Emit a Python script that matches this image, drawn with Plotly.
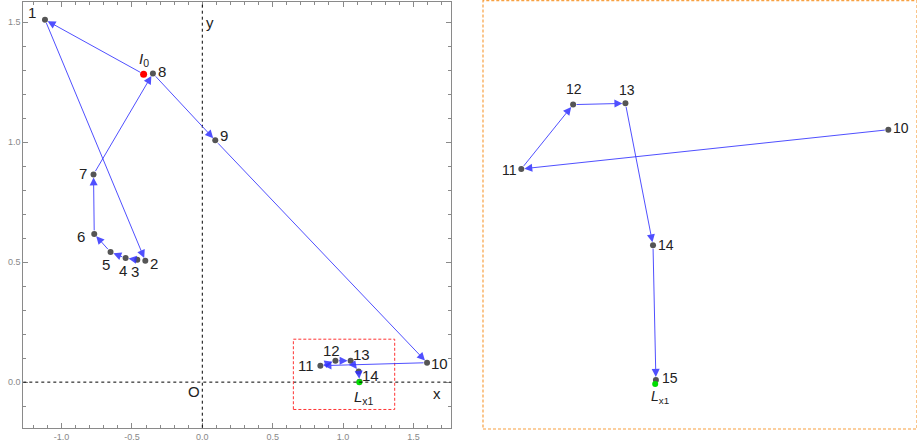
import plotly.graph_objects as go

# ---- data ----
labels = ["1", "2", "3", "4", "5", "6", "7", "8", "9", "10", "11", "12", "13", "14", "15"]
pts_x = [-1.118, -0.405, -0.462, -0.545, -0.652, -0.768, -0.773, -0.351, 0.092,
         1.597, 0.839, 0.946, 1.054, 1.111, 1.117]
pts_y = [1.511, 0.506, 0.510, 0.517, 0.542, 0.618, 0.866, 1.287, 1.008,
         0.081, 0.0685, 0.089, 0.0894, 0.0442, 0.0013]
i0_x, i0_y = -0.417, 1.284
lx1_x, lx1_y = 1.1155, 0.0
x_tick_vals = [-1.0, -0.5, 0.0, 0.5, 1.0, 1.5]
x_tick_text = ["-1.0", "-0.5", "0.0", "0.5", "1.0", "1.5"]
y_tick_vals = [0.0, 0.5, 1.0, 1.5]
y_tick_text = ["0.0", "0.5", "1.0", "1.5"]
zoom_box_x = [0.647, 1.367]
zoom_box_y = [-0.114, 0.179]
zoom_first = 9  # index of point 10

# label offsets (px) for each panel
left_off = [(-13, 7), (9, -3), (-2, -12), (-3, -12), (-5, -12), (-13, -3), (-11, 1),
            (9, 2), (9, 5), (12, -1), (-14, 0), (-4, 10), (11, 6), (12, -4), None]
right_off = [(13, 2), (-12, -1), (1, 16), (2, 13), (13, 0), (14, 2)]

FONT = "Liberation Sans, Arial, sans-serif"
LINE = "rgba(50,50,255,0.85)"
GRAY = "#555555"
FRAME = "#8a8a8a"

fig = go.Figure()

# left panel markers
fig.add_trace(go.Scatter(x=pts_x, y=pts_y, mode="markers",
                         marker=dict(size=6, color=GRAY), xaxis="x", yaxis="y",
                         showlegend=False, hoverinfo="skip"))
# right panel markers
fig.add_trace(go.Scatter(x=pts_x[zoom_first:], y=pts_y[zoom_first:], mode="markers",
                         marker=dict(size=6, color=GRAY), xaxis="x2", yaxis="y2",
                         showlegend=False, hoverinfo="skip"))

ann = []

def arrow(x0, y0, x1, y1, xr, yr):
    ann.append(dict(x=x1, y=y1, ax=x0, ay=y0, xref=xr, yref=yr, axref=xr, ayref=yr,
                    showarrow=True, arrowhead=2, arrowsize=1.6, arrowwidth=1,
                    arrowcolor=LINE, standoff=3, startstandoff=2, text=""))

# left arrows: I0 -> 1 -> 2 ... -> 15
arrow(i0_x, i0_y, pts_x[0], pts_y[0], "x", "y")
for i in range(len(pts_x) - 1):
    arrow(pts_x[i], pts_y[i], pts_x[i + 1], pts_y[i + 1], "x", "y")
# right arrows: 10 -> ... -> 15
for i in range(zoom_first, len(pts_x) - 1):
    arrow(pts_x[i], pts_y[i], pts_x[i + 1], pts_y[i + 1], "x2", "y2")

# special points
fig.add_trace(go.Scatter(x=[i0_x], y=[i0_y], mode="markers", marker=dict(size=7, color="#ff0000"),
                         xaxis="x", yaxis="y", showlegend=False, hoverinfo="skip"))
fig.add_trace(go.Scatter(x=[lx1_x], y=[lx1_y], mode="markers", marker=dict(size=6, color="#00dd00"),
                         xaxis="x", yaxis="y", showlegend=False, hoverinfo="skip"))
fig.add_trace(go.Scatter(x=[lx1_x], y=[lx1_y], mode="markers", marker=dict(size=6, color="#00dd00"),
                         xaxis="x2", yaxis="y2", showlegend=False, hoverinfo="skip"))

def label(x, y, t, xr, yr, dx, dy, size):
    ann.append(dict(x=x, y=y, xref=xr, yref=yr, text=t, showarrow=False,
                    xshift=dx, yshift=dy, font=dict(family=FONT, size=size, color="#222222")))

for i, off in enumerate(left_off):
    if off is not None:
        label(pts_x[i], pts_y[i], labels[i], "x", "y", off[0], off[1], 15)
label(i0_x, i0_y, "<i>I</i><sub>0</sub>", "x", "y", 0, 15, 15)
label(lx1_x, lx1_y, "<i>L</i><sub>x1</sub>", "x", "y", 5, -15, 15)
for k, off in enumerate(right_off):
    i = zoom_first + k
    label(pts_x[i], pts_y[i], labels[i], "x2", "y2", off[0], off[1], 14)
label(lx1_x, lx1_y, "<i>L</i><sub>x1</sub>", "x2", "y2", 5, -13, 14)

# axis names and origin
label(0, 1, "y", "x", "y domain", 8, -10, 15)
label(1, 0, "x", "x domain", "y", -8, -11, 15)
label(0, 0, "O", "x", "y", -8, -9, 15)

shapes = [
    dict(type="line", xref="x", yref="y domain", x0=0, x1=0, y0=0, y1=1,
         line=dict(color="black", width=1, dash="3px,3px")),
    dict(type="line", xref="x domain", yref="y", x0=0, x1=1, y0=0, y1=0,
         line=dict(color="black", width=1, dash="3px,3px")),
    dict(type="rect", xref="x", yref="y", x0=zoom_box_x[0], x1=zoom_box_x[1],
         y0=zoom_box_y[0], y1=zoom_box_y[1], line=dict(color="#ff3333", width=1, dash="3px,2px")),
    dict(type="rect", xref="x2 domain", yref="y2 domain", x0=0, x1=1, y0=0, y1=1,
         line=dict(color="#f7a040", width=1.2, dash="3px,2px")),
]

axis_common = dict(showline=True, linecolor=FRAME, linewidth=1, mirror="allticks",
                   ticks="inside", ticklen=5, tickcolor=FRAME, showgrid=False,
                   zeroline=False, tickfont=dict(family=FONT, size=9, color="#888888"),
                   tickmode="array")

fig.update_layout(
    width=917, height=443, margin=dict(l=0, r=0, t=0, b=0),
    plot_bgcolor="white", paper_bgcolor="white", showlegend=False,
    xaxis=dict(domain=[23.3 / 917, 450.7 / 917], range=[-1.272, 1.765],
               tickvals=x_tick_vals, ticktext=x_tick_text,
               minor=dict(tickmode="linear", tick0=0, dtick=0.1, ticks="inside",
                          ticklen=3, tickcolor=FRAME),
               anchor="y", **axis_common),
    yaxis=dict(domain=[(443 - 427.7) / 443, (443 - 1.7) / 443], range=[-0.19, 1.586],
               tickvals=y_tick_vals, ticktext=y_tick_text,
               minor=dict(tickmode="linear", tick0=0, dtick=0.1, ticks="inside",
                          ticklen=3, tickcolor=FRAME),
               anchor="x", **axis_common),
    xaxis2=dict(domain=[483 / 917, 1.0], range=[0.7599, 1.6562], visible=False, anchor="y2"),
    yaxis2=dict(domain=[(443 - 429) / 443, (443 - 0.7) / 443], range=[-0.01433, 0.1221],
                visible=False, anchor="x2"),
    annotations=ann, shapes=shapes,
)

fig.write_html("out.html", config={"displayModeBar": False},
               post_script="document.body.style.margin='0';document.body.style.overflow='hidden';")
